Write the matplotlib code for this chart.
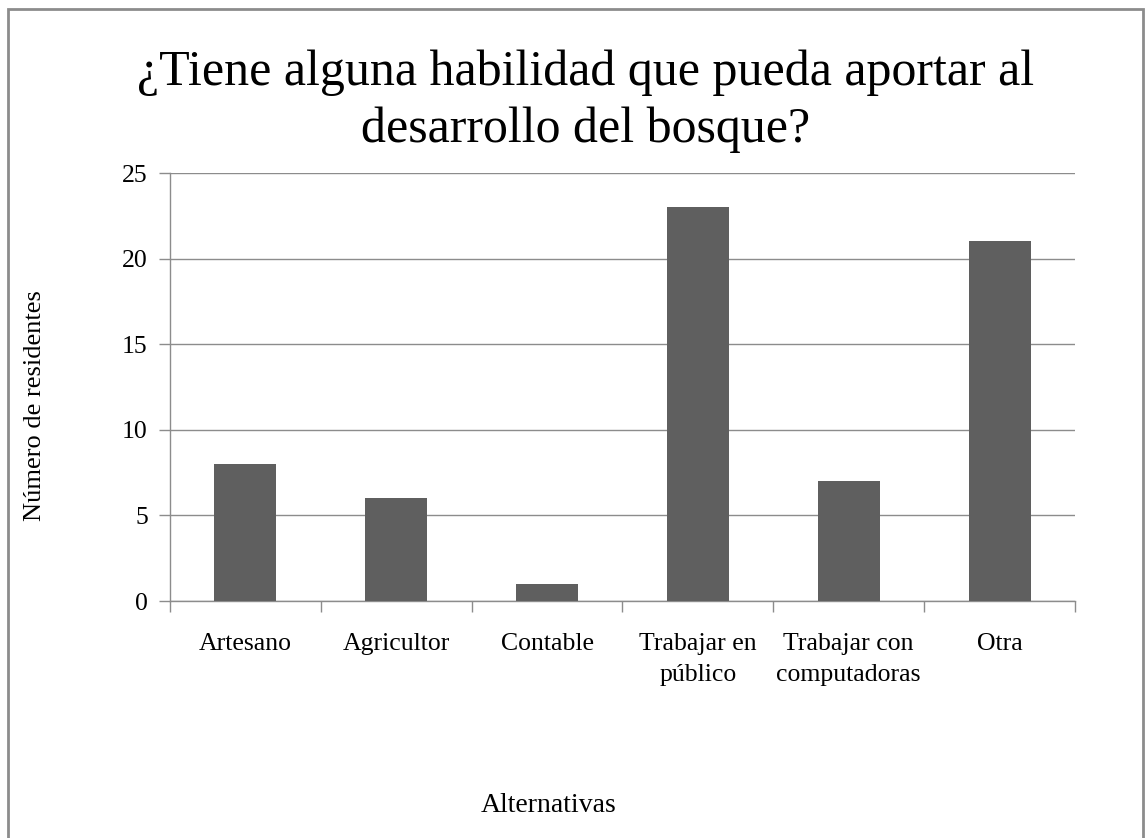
import matplotlib.pyplot as plt
from matplotlib.patches import Rectangle

# Data
categories = ["Artesano", "Agricultor", "Contable", "Trabajar en\npúblico",
              "Trabajar con\ncomputadoras", "Otra"]
residentes = [8, 6, 1, 23, 7, 21]
y_ticks = [0, 5, 10, 15, 20, 25]
title_lines = ["¿Tiene alguna habilidad que pueda aportar al", "desarrollo del bosque?"]

plt.rcParams['font.family'] = ['Liberation Serif', 'DejaVu Serif']

W, H = 1146, 838
fig = plt.figure(figsize=(W / 100, H / 100), dpi=100)
ax = fig.add_axes([170 / W, 237 / H, 905 / W, 428 / H])

# Outer frame around the chart
fig.patches.append(Rectangle((8 / W, -0.02), 1135 / W, 1 - 9 / H + 0.02,
                             transform=fig.transFigure, fill=False,
                             edgecolor='#8c8c8c', linewidth=2))

x = range(len(categories))
ax.bar(x, residentes, width=0.41, color='#5f5f5f', zorder=3)

ax.set_xlim(-0.5, len(categories) - 0.5)
ax.set_ylim(0, 25)
ax.set_yticks(y_ticks)
ax.set_xticks(x)
ax.set_xticklabels(categories, fontsize=18.5, linespacing=1.55)
ax.set_xticks([i - 0.5 for i in range(len(categories) + 1)], minor=True)
ax.tick_params(axis='x', which='major', length=0, pad=23)
ax.tick_params(axis='x', which='minor', length=8, color='#8c8c8c', width=1)
ax.tick_params(axis='y', length=8, color='#8c8c8c', width=1, labelsize=18.5, pad=8)

ax.yaxis.grid(True, color='#8c8c8c', linewidth=1, zorder=0)
for side in ['top', 'right']:
    ax.spines[side].set_visible(False)
for side in ['left', 'bottom']:
    ax.spines[side].set_color('#8c8c8c')
    ax.spines[side].set_linewidth(1)

# Title, two lines placed by baseline
fig.text(586 / W, 1 - 85 / H, title_lines[0], ha='center', va='baseline', fontsize=36)
fig.text(586 / W, 1 - 142 / H, title_lines[1], ha='center', va='baseline', fontsize=36)

fig.text(35 / W, 1 - 406 / H, "Número de residentes", rotation=90,
         ha='center', va='center', fontsize=19)
fig.text(549 / W, 1 - 805 / H, "Alternativas", ha='center', va='center', fontsize=20)

fig.savefig('out.png', dpi=100)
